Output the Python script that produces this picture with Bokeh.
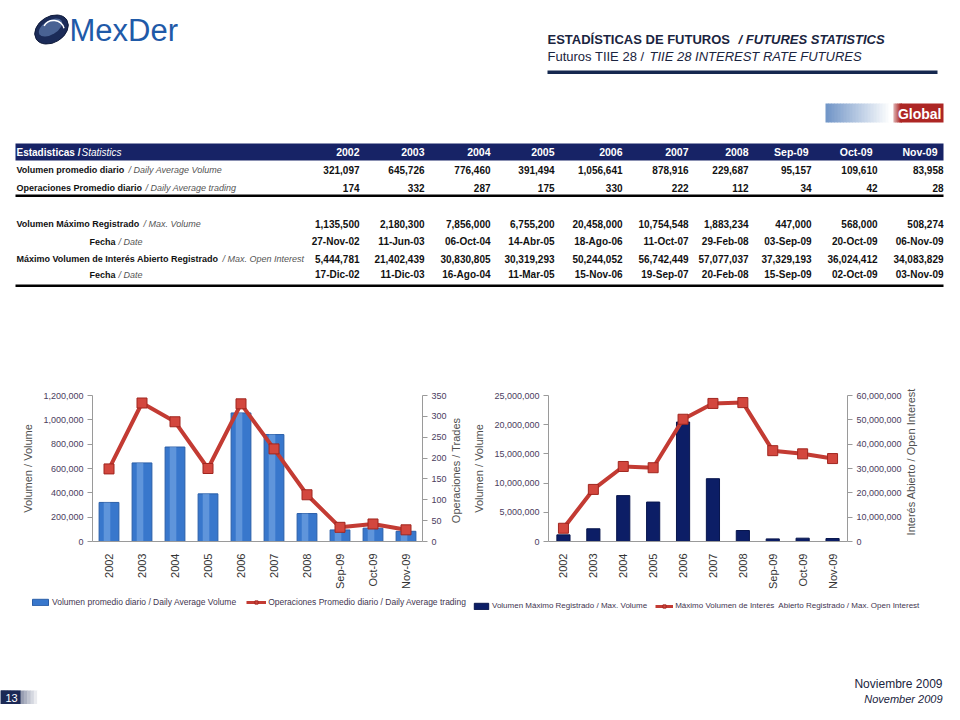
import math
from bokeh.plotting import figure
from bokeh.models import (Range1d, LinearAxis, NumeralTickFormatter, Legend, LegendItem,
                          FactorRange, SingleIntervalTicker, ColumnDataSource)
from bokeh.layouts import column, row
from bokeh.embed import file_html
from bokeh.resources import INLINE
from bokeh.core.properties import value
from bokeh.transform import dodge

# ---------------- data ----------------
periods = ["2002", "2003", "2004", "2005", "2006", "2007", "2008", "Sep-09", "Oct-09", "Nov-09"]
daily_avg_volume = [321097, 645726, 776460, 391494, 1056641, 878916, 229687, 95157, 109610, 83958]
daily_avg_trading = [174, 332, 287, 175, 330, 222, 112, 34, 42, 28]
max_volume = [1135500, 2180300, 7856000, 6755200, 20458000, 10754548, 1883234, 447000, 568000, 508274]
max_volume_date = ["27-Nov-02", "11-Jun-03", "06-Oct-04", "14-Abr-05", "18-Ago-06", "11-Oct-07",
                   "29-Feb-08", "03-Sep-09", "20-Oct-09", "06-Nov-09"]
max_open_interest = [5444781, 21402439, 30830805, 30319293, 50244052, 56742449, 57077037,
                     37329193, 36024412, 34083829]
max_oi_date = ["17-Dic-02", "11-Dic-03", "16-Ago-04", "11-Mar-05", "15-Nov-06", "19-Sep-07",
               "20-Feb-08", "15-Sep-09", "02-Oct-09", "03-Nov-09"]

row_labels_es = ["Volumen promedio diario", "Operaciones Promedio diario", "Volumen Máximo Registrado",
                 "Fecha", "Máximo Volumen de Interés Abierto Registrado", "Fecha"]
row_labels_en = ["/ Daily Average Volume", "/ Daily Average trading", "/ Max. Volume",
                 "/ Date", "/ Max. Open Interest", "/ Date"]

legend1_labels = ["Volumen promedio diario / Daily Average Volume",
                  "Operaciones Promedio diario / Daily Average trading"]
legend2_labels = ["Volumen Máximo Registrado / Max. Volume",
                  "Máximo Volumen de Interés  Abierto Registrado / Max. Open Interest"]

SANS = "Liberation Sans"
RED, RED_FILL, RED_EDGE = "#c33b33", "#d3473e", "#a0261f"
BLUE, BLUE_EDGE = "#3877cc", "#2a5ea8"
NAVY, NAVY_EDGE = "#0c1e66", "#08164d"


def blank(x0, x1, y0, y1):
    p = figure(width=x1 - x0, height=y1 - y0, x_range=Range1d(x0, x1), y_range=Range1d(y1, y0),
               output_backend="svg", toolbar_location=None, min_border=0,
               x_axis_location=None, y_axis_location=None)
    p.grid.visible = False
    p.outline_line_color = None
    return p


def txt(p, x, y, s, size, color="#000000", style="normal", align="left", font=SANS):
    p.text(x=[x], y=[y], text=[s], text_font=value(font), text_font_size=f"{size}px",
           text_color=color, text_font_style=style, text_align=align, text_baseline="middle")


def lerp(c1, c2, t):
    a = [int(c1[i:i + 2], 16) for i in (1, 3, 5)]
    b = [int(c2[i:i + 2], 16) for i in (1, 3, 5)]
    return "#%02x%02x%02x" % tuple(int(a[k] + (b[k] - a[k]) * t) for k in range(3))


def gradient(p, x0, x1, y0, y1, c1, c2, n=16):
    w = (x1 - x0) / n
    for i in range(n):
        p.quad(left=[x0 + i * w], right=[x0 + (i + 1) * w + 0.5], top=[y0], bottom=[y1],
               fill_color=lerp(c1, c2, i / (n - 1)), line_color=None)


# ---------------- header + table ----------------
top = blank(0, 944, 0, 370)

# logo
top.ellipse(x=[51], y=[29], width=36, height=26, angle=0.55, fill_color="#1b2b58", line_color="#0f1a3a")
top.ellipse(x=[50], y=[27], width=26, height=14, angle=0.55, fill_color="#6f8fc4", fill_alpha=0.55, line_color=None)
top.arc(x=[53], y=[31], radius=11, start_angle=0.3, end_angle=2.6, line_color="white", line_width=1.5)
txt(top, 69, 30, "MexDer", 31, color="#1f5aa8")

# title
txt(top, 547, 39, "ESTADÍSTICAS DE FUTUROS", 13, color="#1a2440", style="bold")
txt(top, 738, 39, "/ FUTURES STATISTICS", 13, color="#1a2440", style="bold italic")
txt(top, 547, 56, "Futuros TIIE  28 /", 13, color="#1a2440")
txt(top, 649, 56, "TIIE 28 INTEREST RATE FUTURES", 13, color="#1a2440", style="italic")
top.quad(left=[547], right=[937], top=[70], bottom=[73.5], fill_color="#15284f", line_color=None)

# Global badge
gradient(top, 825, 891, 103, 122, "#7397c8", "#ffffff", n=22)
gradient(top, 893, 901, 103, 122, "#d8a0a0", "#ad2624", n=4)
top.quad(left=[900], right=[943], top=[103], bottom=[122], fill_color="#ad2624", line_color=None)
txt(top, 941, 113, "Global", 14, color="white", style="bold", align="right")

# table header
top.quad(left=[15], right=[943], top=[143], bottom=[160], fill_color="#172366", line_color=None)
txt(top, 16, 151.5, "Estadisticas /", 10, color="white", style="bold")
txt(top, 81, 151.5, "Statistics", 10, color="white", style="italic")
col_right = [359, 424, 490, 554, 622, 688, 748, 811, 877, 943]
head_shift = [0, 0, 0, 0, 0, 0, 0, 3, 5, 6]
for i, per in enumerate(periods):
    txt(top, col_right[i] - head_shift[i], 151.5, per, 10.5, color="white", style="bold", align="right")

row_y = [169, 187, 223, 241, 258, 274]
es_x = [16, 16, 16, 89, 16, 89]
en_x = [128, 145, 143, 118, 222, 118]
row_vals = [[f"{v:,}" for v in daily_avg_volume], [f"{v:,}" for v in daily_avg_trading],
            [f"{v:,}" for v in max_volume], max_volume_date,
            [f"{v:,}" for v in max_open_interest], max_oi_date]
for r in range(6):
    txt(top, es_x[r], row_y[r], row_labels_es[r], 9, color="#111111", style="bold")
    txt(top, en_x[r], row_y[r], row_labels_en[r], 9, color="#555555", style="italic")
    for i in range(len(periods)):
        txt(top, col_right[i], row_y[r], row_vals[r][i], 10, color="#111111", style="bold", align="right")

top.quad(left=[15], right=[943], top=[194], bottom=[196.5], fill_color="#000000", line_color=None)
top.quad(left=[15], right=[943], top=[284], bottom=[286.5], fill_color="#000000", line_color=None)


# ---------------- charts ----------------
NBSP = "\u00a0"


def style_axes(p, lax, rax):
    for ax in (lax, rax):
        ax.axis_line_color = "#9a9a9a"
        ax.major_tick_line_color = "#9a9a9a"
        ax.major_tick_out = 5
        ax.major_tick_in = 0
        ax.minor_tick_line_color = None
        ax.major_label_text_font = SANS
        ax.major_label_text_font_size = "9px"
        ax.major_label_text_color = "#4a3d5e"
        ax.axis_label_text_font = SANS
        ax.axis_label_text_font_size = "11px"
        ax.axis_label_text_font_style = "normal"
        ax.axis_label_text_color = "#505050"
        ax.formatter = NumeralTickFormatter(format="0,0")
        ax.major_label_standoff = 4
        ax.axis_label_standoff = 6
    xa = p.xaxis[0]
    xa.major_label_orientation = math.pi / 2
    xa.major_tick_line_color = None
    xa.axis_line_color = "#9a9a9a"
    xa.major_label_text_font = SANS
    xa.major_label_text_font_size = "11px"
    xa.major_label_text_color = "#333333"
    xa.major_label_standoff = 6
    p.grid.visible = False
    p.outline_line_color = None
    props = rax.properties()
    if "axis_label_orientation" in props:
        rax.axis_label_orientation = math.pi / 2
        if "axis_label_align" in props:
            rax.axis_label_align = "start"


# chart 1  (frame: x 92..423, y 395..541)
p1 = figure(width=470, height=222, x_range=FactorRange(*periods), y_range=Range1d(0, 1200000),
            output_backend="svg", toolbar_location=None,
            min_border_left=92, min_border_right=47, min_border_top=25, min_border_bottom=51)
p1.extra_y_ranges = {"trades": Range1d(0, 350)}
s1 = ColumnDataSource(dict(period=periods, vol=daily_avg_volume, trd=daily_avg_trading))
p1.vbar(x="period", top="vol", width=0.6, source=s1, fill_color=BLUE, line_color=BLUE_EDGE)
p1.vbar(x=dodge("period", -0.06, range=p1.x_range), top="vol", width=0.2, source=s1,
        fill_color="#9cc4f2", fill_alpha=0.4, line_color=None)
p1.line(x="period", y="trd", y_range_name="trades", source=s1, line_color=RED, line_width=4)
p1.scatter(x="period", y="trd", y_range_name="trades", source=s1, marker="square", size=10,
           fill_color=RED_FILL, line_color=RED_EDGE)
p1.yaxis[0].ticker = SingleIntervalTicker(interval=200000)
p1.yaxis[0].axis_label = "Volumen / Volume"
r1 = LinearAxis(y_range_name="trades", ticker=SingleIntervalTicker(interval=50),
                axis_label=NBSP * 6 + "Operaciones / Trades")
p1.add_layout(r1, "right")
style_axes(p1, p1.yaxis[0], r1)

# chart 2  (frame: x 545..847, y 395..541)
p2 = figure(width=474, height=222, x_range=FactorRange(*periods), y_range=Range1d(0, 25000000),
            output_backend="svg", toolbar_location=None,
            min_border_left=75, min_border_right=97, min_border_top=25, min_border_bottom=51)
p2.extra_y_ranges = {"oi": Range1d(0, 60000000)}
s2 = ColumnDataSource(dict(period=periods, vol=max_volume, oi=max_open_interest))
p2.vbar(x="period", top="vol", width=0.44, source=s2, fill_color=NAVY, line_color=NAVY_EDGE)
p2.line(x="period", y="oi", y_range_name="oi", source=s2, line_color=RED, line_width=4)
p2.scatter(x="period", y="oi", y_range_name="oi", source=s2, marker="square", size=10,
           fill_color=RED_FILL, line_color=RED_EDGE)
p2.yaxis[0].ticker = SingleIntervalTicker(interval=5000000)
p2.yaxis[0].axis_label = "Volumen / Volume"
r2 = LinearAxis(y_range_name="oi", ticker=SingleIntervalTicker(interval=10000000),
                axis_label=NBSP * 2 + "Interés Abierto / Open Interest")
p2.add_layout(r2, "right")
style_axes(p2, p2.yaxis[0], r2)

# ---------------- legend band (legend swatches only, nothing drawn in the band) ----------------
band = blank(0, 944, 592, 620)
nan = float("nan")
lb1 = band.vbar(x=[nan], top=[nan], width=1, fill_color=BLUE, line_color=BLUE_EDGE)
lb2 = band.vbar(x=[nan], top=[nan], width=1, fill_color=NAVY, line_color=NAVY_EDGE)
ll = band.line(x=[nan], y=[nan], line_color=RED, line_width=3)
lm = band.scatter(x=[nan], y=[nan], marker="square", size=8, fill_color=RED_FILL, line_color=RED_EDGE)


def make_legend(labels, bar, loc, size, gw, sp):
    return Legend(items=[LegendItem(label=labels[0], renderers=[bar]),
                         LegendItem(label=labels[1], renderers=[ll, lm])],
                  orientation="horizontal", location=loc,
                  label_text_font=SANS, label_text_font_size=f"{size}px", label_text_color="#3f3550",
                  glyph_width=gw, glyph_height=8, spacing=sp, padding=0, margin=0,
                  border_line_color=None, background_fill_alpha=0, label_standoff=2)


band.add_layout(make_legend(legend1_labels, lb1, (30, 13), 8.5, 20, 10), "center")
band.add_layout(make_legend(legend2_labels, lb2, (472, 10), 8, 18, 8), "center")

# ---------------- footer ----------------
foot = blank(0, 944, 620, 704)
gradient(foot, 0, 40, 690, 704, "#1b2955", "#ffffff", n=12)
foot.quad(left=[0], right=[20], top=[690], bottom=[704], fill_color="#1b2955", line_color=None)
txt(foot, 11, 697.5, "13", 11, color="white", align="center")
txt(foot, 942, 683, "Noviembre 2009", 12, color="#1a2440", align="right")
txt(foot, 942, 698, "November 2009", 11, color="#1a2440", style="italic", align="right")

layout = column(top, row(p1, p2), band, foot)
open("out.html", "w").write(file_html(layout, INLINE))
